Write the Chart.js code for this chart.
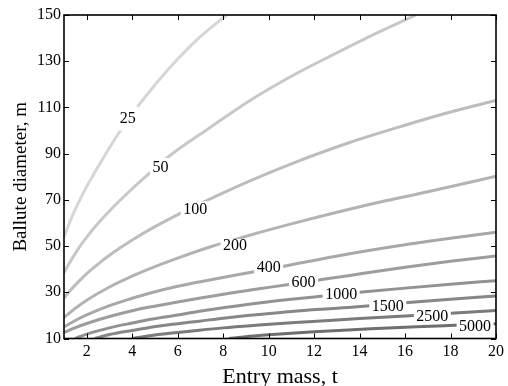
<!DOCTYPE html>
<html>
<head>
<meta charset="utf-8">
<script src="https://cdn.jsdelivr.net/npm/chart.js@4/dist/chart.umd.min.js"></script>
<style>
  html, body { margin: 0; padding: 0; background: #fff; }
  #wrap { width: 508px; height: 386px; }
</style>
</head>
<body>
<div id="wrap"><canvas id="myChart"></canvas></div>
<script>
// contour levels and their [entry mass t, ballute diameter m] points
const levels = [25, 50, 100, 200, 400, 600, 1000, 1500, 2500, 5000];

const line25 = [[1, 54], [1.2, 59], [1.4, 63.8], [1.85, 73], [2.6, 86], [3.38, 98.5], [4.25, 110.5], [5.06, 120.5], [5.78, 128.6], [6.95, 140.2], [8.15, 150]];
const line50 = [[1, 38.5], [1.2, 42], [1.45, 46.1], [1.7, 49.9], [2, 53.9], [2.5, 59.9], [3, 65.2], [4, 74.8], [4.77, 81.6], [5.64, 89], [7.38, 101], [9.13, 112.7], [11, 123.5], [12.77, 132.5], [14.5, 141], [16.48, 150]];
const line100 = [[1, 27.5], [1.25, 30.5], [1.5, 33.2], [1.75, 35.7], [2, 38.1], [2.5, 42.2], [3, 46], [4, 52.6], [5, 58.4], [6.73, 67.2], [7.38, 70.2], [9.13, 78], [11, 85.6], [13.5, 94.6], [16, 102.3], [18, 108], [20, 113]];
const line200 = [[1, 19.1], [1.5, 23.1], [2, 26.6], [3, 32.3], [4, 37], [5, 41.1], [6, 44.8], [7.38, 49.5], [9.13, 54.6], [11, 59.6], [13.5, 65.8], [15.15, 69.6], [17, 73.5], [20, 80.2]];
const line400 = [[1, 15], [1.5, 17.8], [2, 20.2], [3, 24.2], [4, 27.4], [4.76, 29.6], [6, 32.6], [7, 34.6], [9.42, 39], [10.6, 41.2], [13.5, 46.6], [16, 50.6], [18, 53.4], [20, 56]];
const line600 = [[1, 12.6], [1.5, 14.7], [2, 16.5], [3, 19.5], [4, 22], [4.76, 23.6], [6, 25.8], [7, 27.5], [8.26, 29.6], [9.5, 31.4], [10.9, 33.4], [12.2, 35.3], [13.5, 37.2], [16, 40.8], [18, 43.4], [20, 45.7]];
const line1000 = [[1.48, 10], [2, 11.9], [3, 14.6], [4, 16.7], [4.76, 18.2], [6, 20.2], [6.95, 21.8], [8, 23.3], [9.57, 25.4], [11, 27], [12.5, 28.5], [14, 30], [16, 31.8], [18, 33.5], [20, 35]];
const line1500 = [[2.35, 10], [3, 11.7], [4, 13.5], [4.76, 14.8], [6, 16.4], [6.95, 17.5], [8, 18.8], [9.57, 20.4], [11, 21.7], [13.5, 23.4], [16, 25.5], [18, 27], [20, 28.4]];
const line2500 = [[4.02, 10], [4.76, 11.2], [6, 12.6], [6.95, 13.6], [8, 14.6], [9.57, 15.8], [11, 16.8], [13.5, 18.3], [15, 19.2], [17, 20.3], [18, 20.9], [20, 22.1]];
const line5000 = [[8.26, 10], [9, 10.8], [10, 11.6], [11, 12.3], [12, 12.9], [13.5, 13.7], [15, 14.4], [16.5, 15.1], [18.4, 15.8], [20, 16.4]];

// where each level's number sits on its line
const labelMass = [3.8, 5.24, 6.77, 8.52, 10.0, 11.53, 13.19, 15.24, 17.2, 19.08];
const labelDiam = [105.2, 84, 65.9, 50.3, 40.8, 34.3, 29.1, 24.0, 19.6, 15.3];

const xTicks = [2, 4, 6, 8, 10, 12, 14, 16, 18, 20];
const yTicks = [10, 30, 50, 70, 90, 110, 130, 150];

const contours = [line25, line50, line100, line200, line400, line600, line1000, line1500, line2500, line5000];
const lineColors = ['#d6d6d6', '#c8c8c8', '#bdbdbd', '#b3b3b3', '#a8a8a8', '#9d9d9d', '#929292', '#878787', '#7b7b7b', '#6e6e6e'];
// height of the gap cut into each line behind its number (steeper lines need more)
const gapHeight = [24, 19, 16, 13, 12, 12, 12, 12, 12, 12];

const serif = '"Liberation Serif", "Times New Roman", serif';

// inline level numbers, box frame and inward ticks on all four sides
const frame = {
    id: 'frame',
    afterDatasetsDraw(chart) {
        const {ctx, scales: {x, y}} = chart;
        ctx.save();
        ctx.font = '16px ' + serif;
        ctx.textAlign = 'center';
        ctx.textBaseline = 'middle';
        levels.forEach((lv, i) => {
            const px = x.getPixelForValue(labelMass[i]);
            const py = y.getPixelForValue(labelDiam[i]);
            const txt = String(lv);
            const w = ctx.measureText(txt).width + 5;
            const h = gapHeight[i];
            ctx.fillStyle = '#fff';
            ctx.fillRect(px - w / 2, py - h / 2, w, h);
            ctx.fillStyle = '#000';
            ctx.fillText(txt, px, py + 0.5);
        });
        ctx.restore();
    },
    afterDraw(chart) {
        const {ctx, chartArea: a, scales: {x, y}} = chart;
        ctx.save();
        ctx.strokeStyle = '#000';
        ctx.lineWidth = 1;
        ctx.beginPath();
        xTicks.forEach(v => {
            const px = Math.round(x.getPixelForValue(v)) + 0.5;
            ctx.moveTo(px, a.bottom); ctx.lineTo(px, a.bottom - 5);
            ctx.moveTo(px, a.top); ctx.lineTo(px, a.top + 5);
        });
        yTicks.forEach(v => {
            const py = Math.round(y.getPixelForValue(v)) + 0.5;
            ctx.moveTo(a.left, py); ctx.lineTo(a.left + 5, py);
            ctx.moveTo(a.right, py); ctx.lineTo(a.right - 5, py);
        });
        ctx.stroke();
        ctx.lineWidth = 1.6;
        ctx.strokeRect(a.left, a.top, a.right - a.left, a.bottom - a.top);
        ctx.restore();
    }
};

const datasets = contours.map((pts, i) => ({
    label: String(levels[i]),
    data: pts.map(p => ({x: p[0], y: p[1]})),
    showLine: true,
    borderColor: lineColors[i],
    borderWidth: 3,
    pointRadius: 0,
    cubicInterpolationMode: 'monotone',
    fill: false
}));

const ctx = document.getElementById('myChart').getContext('2d');
new Chart(ctx, {
    type: 'scatter',
    data: {datasets: datasets},
    options: {
        responsive: true,
        maintainAspectRatio: false,
        animation: false,
        layout: {padding: {left: 0, right: 9.5, top: 15, bottom: 0}},
        plugins: {
            legend: {display: false},
            tooltip: {enabled: false}
        },
        scales: {
            x: {
                type: 'linear',
                min: 1,
                max: 20,
                afterBuildTicks: s => { s.ticks = xTicks.map(v => ({value: v})); },
                afterFit: s => { s.height = 47.5; },
                grid: {display: false, drawTicks: false},
                border: {display: false},
                ticks: {color: '#000', font: {family: serif, size: 16}, padding: 4, maxRotation: 0},
                title: {display: true, text: 'Entry mass, t', color: '#000',
                        font: {family: serif, size: 22, lineHeight: 0.8}, padding: {top: 0, bottom: 0}}
            },
            y: {
                type: 'linear',
                min: 10,
                max: 150,
                afterBuildTicks: s => { s.ticks = yTicks.map(v => ({value: v})); },
                afterFit: s => { s.width = 64; },
                grid: {display: false, drawTicks: false},
                border: {display: false},
                ticks: {color: '#000', font: {family: serif, size: 16}, padding: 3},
                title: {display: true, text: 'Ballute diameter, m', color: '#000',
                        font: {family: serif, size: 19, lineHeight: 0.88}, padding: {top: 12.5, bottom: 0}}
            }
        }
    },
    plugins: [frame]
});
</script>
</body>
</html>
